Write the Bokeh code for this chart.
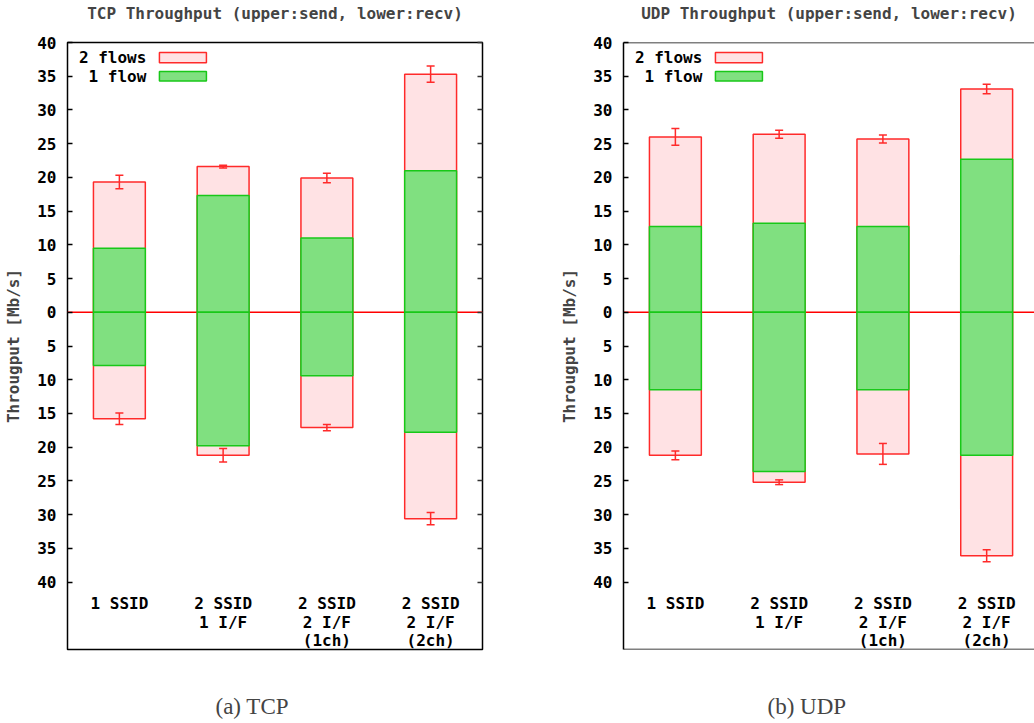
from bokeh.plotting import figure
from bokeh.layouts import row
from bokeh.models import (ColumnDataSource, Whisker, TeeHead, Span, Label, BoxAnnotation,
                          FixedTicker, LinearAxis, CustomJSTickFormatter, Title, Range1d)
from bokeh.core.properties import value
from bokeh.embed import file_html
from bokeh.resources import INLINE

# ---------------- data ----------------
categories = ["1 SSID", "2 SSID\n1 I/F", "2 SSID\n2 I/F\n(1ch)", "2 SSID\n2 I/F\n(2ch)"]
series_names = ["2 flows", "1 flow"]

tcp_send_1 = [9.5, 17.3, 11.0, 21.0]
tcp_send_2 = [19.3, 21.6, 19.9, 35.3]
tcp_send_2_err = [1.0, 0.2, 0.7, 1.2]
tcp_recv_1 = [7.9, 19.8, 9.4, 17.8]
tcp_recv_2 = [15.8, 21.2, 17.1, 30.6]
tcp_recv_2_err = [0.85, 1.0, 0.45, 0.9]

udp_send_1 = [12.7, 13.2, 12.7, 22.7]
udp_send_2 = [26.0, 26.4, 25.7, 33.1]
udp_send_2_err = [1.25, 0.6, 0.6, 0.7]
udp_recv_1 = [11.5, 23.6, 11.5, 21.2]
udp_recv_2 = [21.2, 25.2, 21.0, 36.1]
udp_recv_2_err = [0.65, 0.35, 1.55, 0.9]

y_ticks = list(range(-40, 41, 5))

MONO = "DejaVu Sans Mono"
FS = "16px"
RED = "#ff2a2a"
PINK = "#ffe2e4"
GREEN_FILL = "#80e080"
GREEN_LINE = "#18c818"


def make_panel(title, caption, send1, send2, send2_err, recv1, recv2, recv2_err,
               width, border_left, border_right, x_end, right_axis, full_outline,
               caption_offset):
    p = figure(width=width, height=723, output_backend="svg", toolbar_location=None,
               x_range=Range1d(-0.5, x_end), y_range=Range1d(-50, 40),
               x_axis_location=None, min_border_left=border_left,
               min_border_right=border_right, min_border_top=42, min_border_bottom=74)
    p.xgrid.visible = False
    p.ygrid.visible = False
    p.background_fill_color = "white"
    p.border_fill_color = "white"

    # spacer between frame and title
    p.add_layout(Title(text=" ", text_font_size="1px", standoff=17), "above")
    p.title.text = title
    p.title.align = "center"
    p.title.vertical_align = "bottom"
    p.title.text_font = MONO
    p.title.text_font_style = "bold"
    p.title.text_font_size = FS
    p.title.standoff = 0

    # spacer between frame and caption, then the caption
    p.add_layout(Title(text=" ", text_font_size="1px", standoff=41), "below")
    p.add_layout(Title(text=caption, align="left", offset=caption_offset,
                       vertical_align="top", text_font="Liberation Serif",
                       text_font_style="normal", text_font_size="23px", standoff=0),
                 "below")

    xs = list(range(len(categories)))
    zero = Span(location=0, dimension="width", line_color="#ff0000", line_width=1.5,
                level="underlay")
    p.add_layout(zero)

    src = ColumnDataSource(dict(
        x=xs,
        s1=send1, s2=send2, r1=[-v for v in recv1], r2=[-v for v in recv2],
        s2_up=[a + b for a, b in zip(send2, send2_err)],
        s2_lo=[a - b for a, b in zip(send2, send2_err)],
        r2_up=[-(a - b) for a, b in zip(recv2, recv2_err)],
        r2_lo=[-(a + b) for a, b in zip(recv2, recv2_err)],
        lab=categories,
    ))

    for col in ("s2", "r2"):
        p.vbar(x="x", width=0.5, bottom=0, top=col, source=src,
               fill_color=PINK, line_color=RED, line_width=1.5)
    for col in ("s1", "r1"):
        p.vbar(x="x", width=0.5, bottom=0, top=col, source=src,
               fill_color=GREEN_FILL, line_color=GREEN_LINE, line_width=1.5)

    for up, lo in (("s2_up", "s2_lo"), ("r2_up", "r2_lo")):
        w = Whisker(base="x", upper=up, lower=lo, source=src, level="overlay",
                    line_color=RED, line_width=1.5,
                    upper_head=TeeHead(size=8, line_color=RED, line_width=1.5),
                    lower_head=TeeHead(size=8, line_color=RED, line_width=1.5))
        p.add_layout(w)

    p.text(x="x", y=-41.8, text="lab", source=src, text_align="center",
           text_baseline="top", text_font=value(MONO), text_font_style="bold",
           text_font_size=FS, text_line_height=0.98, text_color="black")

    # legend (label left of swatch, gnuplot style)
    legend_fill = [(PINK, RED), (GREEN_FILL, GREEN_LINE)]
    rows_y = [(38.5, 37.0), (35.7, 34.3)]
    for name, (fc, lc), (top, bot) in zip(series_names, legend_fill, rows_y):
        p.add_layout(Label(x=0.26, y=(top + bot) / 2, text=name, text_align="right",
                           text_baseline="middle", text_font=MONO, text_font_style="bold",
                           text_font_size=FS, text_color="black"))
        p.add_layout(BoxAnnotation(left=0.386, right=0.839, top=top, bottom=bot,
                                   fill_color=fc, fill_alpha=1.0, line_color=lc,
                                   line_width=1.5, line_alpha=1.0))

    # y axis
    ax = p.yaxis[0]
    ax.ticker = FixedTicker(ticks=y_ticks)
    ax.formatter = CustomJSTickFormatter(code="return Math.abs(tick).toString();")
    ax.major_tick_in = 5
    ax.major_tick_out = 0
    ax.minor_tick_in = 0
    ax.minor_tick_out = 0
    ax.major_tick_line_color = "black"
    ax.major_tick_line_width = 1.5
    ax.major_label_standoff = 11
    ax.major_label_text_font = MONO
    ax.major_label_text_font_style = "bold"
    ax.major_label_text_font_size = FS
    ax.major_label_text_color = "black"
    ax.axis_label = "Througput [Mb/s]"
    ax.axis_label_text_font = MONO
    ax.axis_label_text_font_style = "bold"
    ax.axis_label_text_font_size = FS
    ax.axis_label_standoff = 11

    if full_outline:
        ax.axis_line_color = None
        p.outline_line_color = "black"
        p.outline_line_width = 1.5
        p.outline_line_alpha = 1.0
    else:
        ax.axis_line_color = "black"
        ax.axis_line_width = 1.5
        p.outline_line_color = None
        for loc in (40, -50):
            p.add_layout(Span(location=loc, dimension="width", line_color="black",
                              line_width=1.5))

    if right_axis:
        rax = LinearAxis(ticker=FixedTicker(ticks=y_ticks), major_tick_in=5,
                         major_tick_out=0, minor_tick_in=0, minor_tick_out=0,
                         major_tick_line_color="#333333", major_tick_line_width=1.5,
                         major_label_text_color=None, axis_line_color=None)
        p.add_layout(rax, "right")
    return p


p1 = make_panel("TCP Throughput (upper:send, lower:recv)", "(a) TCP",
                tcp_send_1, tcp_send_2, tcp_send_2_err, tcp_recv_1, tcp_recv_2, tcp_recv_2_err,
                width=540, border_left=67, border_right=58, x_end=3.5,
                right_axis=True, full_outline=True, caption_offset=148)
p2 = make_panel("UDP Throughput (upper:send, lower:recv)", "(b) UDP",
                udp_send_1, udp_send_2, udp_send_2_err, udp_recv_1, udp_recv_2, udp_recv_2_err,
                width=494, border_left=83, border_right=0, x_end=3.461,
                right_axis=False, full_outline=False, caption_offset=144)

layout = row(p1, p2)
open("out.html", "w").write(file_html(layout, INLINE))
